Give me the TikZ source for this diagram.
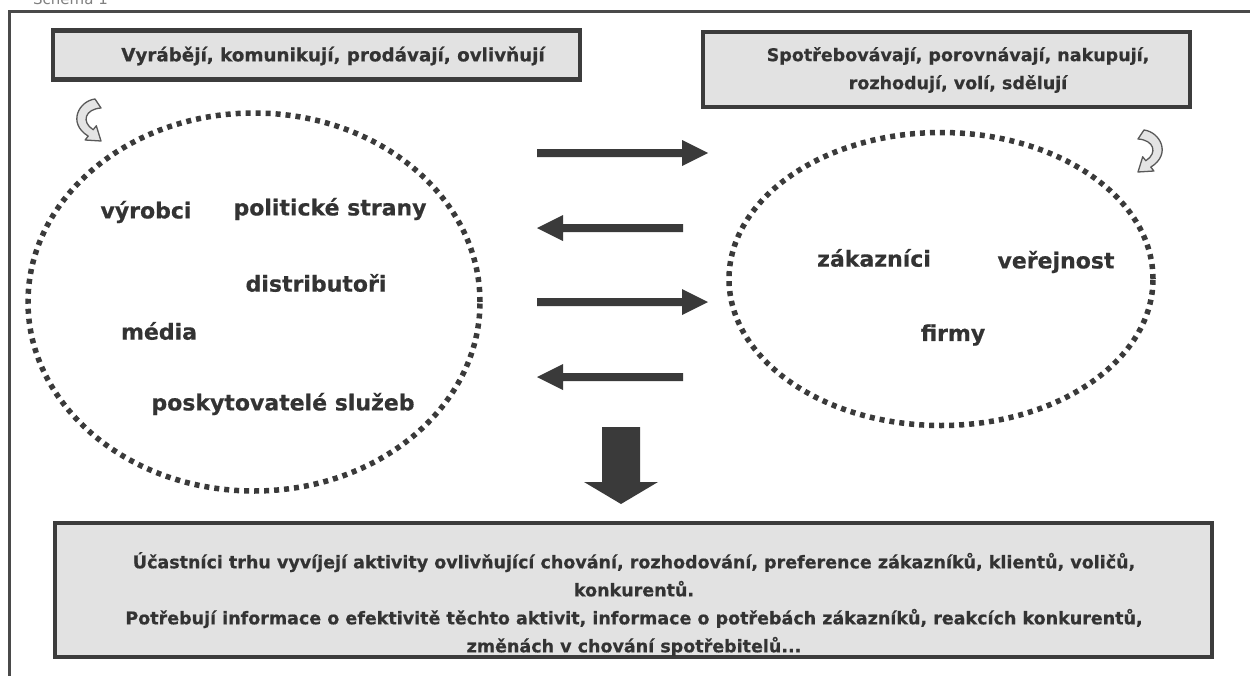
\documentclass[tikz,border=0pt]{standalone}
\usepackage{fontspec}
\setmainfont{DejaVu Sans}[BoldFeatures={FakeBold=0.6}]
\usetikzlibrary{shapes.geometric}
\definecolor{ink}{HTML}{333333}
\definecolor{framec}{HTML}{4A4A4A}
\definecolor{boxline}{HTML}{3C3C3C}
\definecolor{boxfill}{HTML}{E2E2E2}
\definecolor{dotc}{HTML}{3A3A3A}
\definecolor{arrc}{HTML}{3A3A3A}
\definecolor{curvfill}{HTML}{E4E4E4}
\begin{document}
\begin{tikzpicture}[x=1pt,y=-1pt,
  frameline/.style={draw=framec,line width=3pt},
  boxshape/.style={draw=boxline,fill=boxfill,line width=4.5pt,rectangle,inner sep=0pt},
  boxtext/.style={text=ink,font=\fontsize{17.5}{28}\selectfont\bfseries,align=center,inner sep=0pt},
  labeltext/.style={text=ink,font=\fontsize{22}{26}\selectfont\bfseries,inner sep=0pt},
  dotring/.style={ellipse,draw=dotc,line width=5.5pt,dash pattern=on 5pt off 5pt,inner sep=0pt},
  blockarrow/.style={fill=arrc},
  curvarrow/.style={draw=boxline!85,fill=curvfill,line width=1.3pt,line join=round}
]
\useasboundingbox (0,0) rectangle (1250,675);

% outer frame
\draw[frameline] (9,690) -- (9,11) -- (1270,11);
\node[anchor=base west,text=gray,font=\fontsize{15}{18}\selectfont,inner sep=0pt] (title) at (33,4) {Schéma 1};

% top boxes
\node[boxshape,minimum width=527pt,minimum height=49pt] (lbox) at (316.5,55) {};
\node[boxtext,font=\fontsize{18.3}{28}\selectfont\bfseries] (ltext) at (333,56) {Vyrábějí, komunikují, prodávají, ovlivňují};

\node[boxshape,minimum width=487pt,minimum height=75pt] (rbox) at (946.5,69.5) {};
\node[boxtext] (rtext) at (958,70) {Spotřebovávají, porovnávají, nakupují,\\rozhodují, volí, sdělují};

% curved arrows
\begin{scope}[shift={(-5,-4)}]
\draw[curvarrow] (100,103) .. controls (84,105) and (72,127) .. (93.2,140.1) -- (90.1,144) -- (106,145) -- (101.3,129.8) -- (98.2,133.7) .. controls (86,126) and (90,113) .. (106,112) -- cycle;
\end{scope}
\begin{scope}[shift={(1244,27)},xscale=-1]
\draw[curvarrow] (100,103) .. controls (84,105) and (72,127) .. (93.2,140.1) -- (90.1,144) -- (106,145) -- (101.3,129.8) -- (98.2,133.7) .. controls (86,126) and (90,113) .. (106,112) -- cycle;
\end{scope}

% ellipses
\node[dotring,minimum width=452pt,minimum height=378pt] (lell) at (254,302) {};
\node[dotring,minimum width=424pt,minimum height=293pt] (rell) at (941,279) {};

% left labels
\node[labeltext] (vyrobci) at (146,212) {výrobci};
\node[labeltext] (polit) at (330,209) {politické strany};
\node[labeltext] (distr) at (316,283) {distributoři};
\node[labeltext] (media) at (159,331) {média};
\node[labeltext] (posk) at (283,404) {poskytovatelé služeb};

% right labels
\node[labeltext] (zak) at (874,258) {zákazníci};
\node[labeltext] (ver) at (1056,262) {veřejnost};
\node[labeltext] (firmy) at (953,335) {firmy};

% horizontal block arrows
\fill[blockarrow] (537,149) -- (682,149) -- (682,140) -- (708,153) -- (682,166) -- (682,157) -- (537,157) -- cycle;
\fill[blockarrow] (683,224) -- (563,224) -- (563,215) -- (537,228) -- (563,241) -- (563,232) -- (683,232) -- cycle;
\fill[blockarrow] (537,298) -- (682,298) -- (682,289) -- (708,302) -- (682,315) -- (682,306) -- (537,306) -- cycle;
\fill[blockarrow] (683,373) -- (563,373) -- (563,364) -- (537,377) -- (563,390) -- (563,381) -- (683,381) -- cycle;

% down arrow
\fill[blockarrow] (602,427) -- (640,427) -- (640,482) -- (658,482) -- (621,504) -- (584,482) -- (602,482) -- cycle;

% bottom box
\node[boxshape,minimum width=1157pt,minimum height=134pt] (bbox) at (633.5,590) {};
\node[boxtext] (btext) at (634,604) {Účastníci trhu vyvíjejí aktivity ovlivňující chování, rozhodování, preference zákazníků, klientů, voličů,\\konkurentů.\\Potřebují informace o efektivitě těchto aktivit, informace o potřebách zákazníků, reakcích konkurentů,\\změnách v chování spotřebitelů...};
\end{tikzpicture}
\end{document}
